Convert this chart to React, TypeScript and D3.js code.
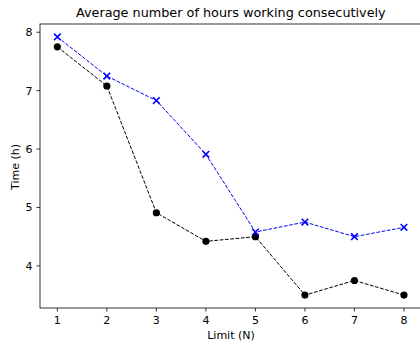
import React from "react";
import * as d3 from "d3";

const limits = [1, 2, 3, 4, 5, 6, 7, 8];
const blackSeries = [7.75, 7.08, 4.91, 4.42, 4.5, 3.5, 3.75, 3.5];
const blueSeries = [7.92, 7.25, 6.83, 5.91, 4.58, 4.75, 4.5, 4.66];
const yTicks = [4, 5, 6, 7, 8];
const xTicks = [1, 2, 3, 4, 5, 6, 7, 8];

const W = 420;
const H = 345;
const L = 40, R = 421.3, T = 24, B = 308;
const FONT = "DejaVu Sans, sans-serif";

export default function App() {
  const all = [...blackSeries, ...blueSeries];
  const ymin = d3.min(all)!, ymax = d3.max(all)!;
  const ym = (ymax - ymin) * 0.05;
  const xm = (8 - 1) * 0.05;
  const x = d3.scaleLinear().domain([1 - xm, 8 + xm]).range([L, R]);
  const y = d3.scaleLinear().domain([ymin - ym, ymax + ym]).range([B, T]);
  const line = d3.line<number>().x((_, i) => x(limits[i])).y((d) => y(d));

  return (
    <svg width={W} height={H} style={{ position: "absolute", left: 0, top: 0, background: "#fff" }} fontFamily={FONT}>
      <rect x={0} y={0} width={W} height={H} fill="#fff" />
      <text x={230.8} y={17} textAnchor="middle" fontSize={12.8}>Average number of hours working consecutively</text>
      {/* lines */}
      <path d={line(blackSeries)!} fill="none" stroke="#000" strokeWidth={1} strokeDasharray="3.7,1.6" />
      <path d={line(blueSeries)!} fill="none" stroke="#0000ff" strokeWidth={1} strokeDasharray="3.7,1.6" />
      {blackSeries.map((v, i) => (
        <circle key={"c" + i} cx={x(limits[i])} cy={y(v)} r={3.6} fill="#000" />
      ))}
      {blueSeries.map((v, i) => {
        const cx = x(limits[i]), cy = y(v), s = 3.3;
        return (
          <path key={"x" + i} d={`M${cx - s},${cy - s}L${cx + s},${cy + s}M${cx - s},${cy + s}L${cx + s},${cy - s}`} stroke="#0000ff" strokeWidth={1.6} />
        );
      })}
      {/* spines */}
      <rect x={L} y={T} width={R - L} height={B - T} fill="none" stroke="#000" strokeWidth={0.8} />
      {xTicks.map((t) => (
        <g key={"xt" + t}>
          <line x1={x(t)} x2={x(t)} y1={B} y2={B + 3.5} stroke="#000" strokeWidth={0.8} />
          <text x={x(t)} y={B + 16} textAnchor="middle" fontSize={11}>{t}</text>
        </g>
      ))}
      {yTicks.map((t) => (
        <g key={"yt" + t}>
          <line x1={L - 3.5} x2={L} y1={y(t)} y2={y(t)} stroke="#000" strokeWidth={0.8} />
          <text x={L - 7.5} y={y(t) + 4} textAnchor="end" fontSize={11}>{t}</text>
        </g>
      ))}
      <text x={231} y={339.3} textAnchor="middle" fontSize={11}>Limit (N)</text>
      <text transform={`translate(18.5,167) rotate(-90)`} textAnchor="middle" fontSize={11}>Time (h)</text>
    </svg>
  );
}
